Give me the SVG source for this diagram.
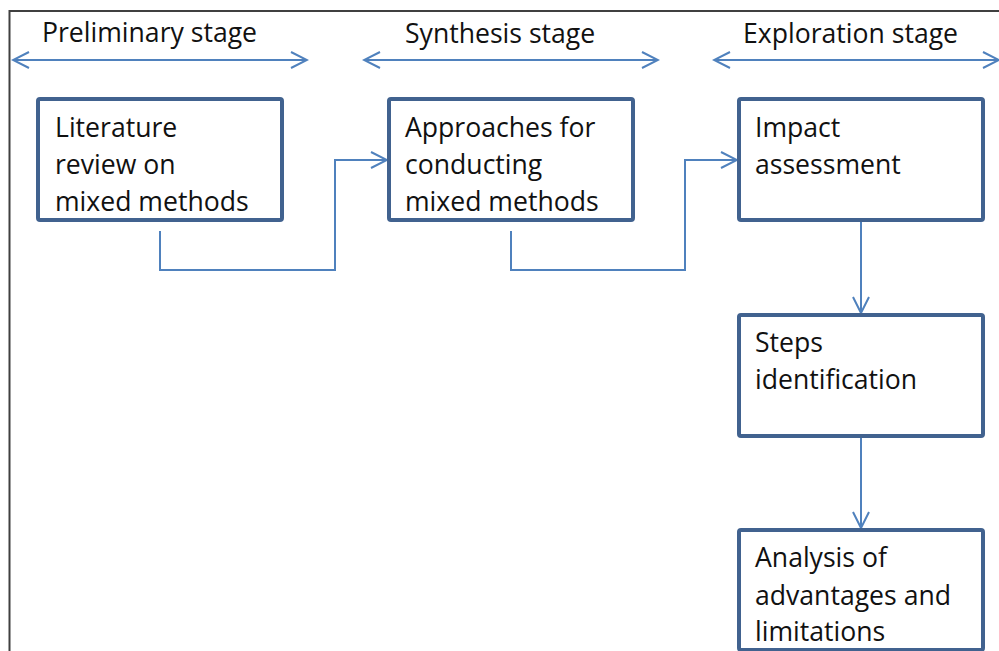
<svg xmlns="http://www.w3.org/2000/svg" width="999" height="651" viewBox="0 0 999 651">
<defs>
<style>
.t{font-family:"Open Sans","Liberation Sans",sans-serif;font-size:26.6px;fill:#111}
.box{fill:#fff;stroke:#41628f;stroke-width:4}
.c{fill:none;stroke:#4f81bd;stroke-width:2}
</style>
<marker id="ah" viewBox="0 0 20 20" refX="18" refY="10" markerWidth="20" markerHeight="20" markerUnits="userSpaceOnUse" orient="auto-start-reverse">
<path d="M2,2 L18,10 L2,18" fill="none" stroke="#4f81bd" stroke-width="2"/>
</marker>
</defs>
<rect width="999" height="651" fill="#fff"/>
<path d="M9.5,651 V11 H999" fill="none" stroke="#404040" stroke-width="2"/>
<g id="headers">
<text class="t" x="42" y="42">Preliminary stage</text>
<text class="t" x="405" y="43">Synthesis stage</text>
<text class="t" x="743" y="43">Exploration stage</text>
</g>
<g id="connectors">
<path class="c" d="M13,60 H307" marker-start="url(#ah)" marker-end="url(#ah)"/>
<path class="c" d="M364,60 H658" marker-start="url(#ah)" marker-end="url(#ah)"/>
<path class="c" d="M714,60 H999" marker-start="url(#ah)" marker-end="url(#ah)"/>
<path class="c" d="M160,231 V270 H335 V160 H387" marker-end="url(#ah)"/>
<path class="c" d="M511,231 V270 H685 V160 H737" marker-end="url(#ah)"/>
<path class="c" d="M861,221 V313" marker-end="url(#ah)"/>
<path class="c" d="M861,437 V528" marker-end="url(#ah)"/>
</g>
<g id="n1">
<rect class="box" x="38" y="99" width="244" height="121" rx="2"/>
<text class="t" x="55" y="137">Literature</text>
<text class="t" x="55" y="174">review on</text>
<text class="t" x="55" y="211">mixed methods</text>
</g>
<g id="n2">
<rect class="box" x="389" y="99" width="244" height="121" rx="2"/>
<text class="t" x="405" y="137">Approaches for</text>
<text class="t" x="405" y="174">conducting</text>
<text class="t" x="405" y="211">mixed methods</text>
</g>
<g id="n3">
<rect class="box" x="739" y="99" width="244" height="121" rx="2"/>
<text class="t" x="755" y="137">Impact</text>
<text class="t" x="755" y="174">assessment</text>
</g>
<g id="n4">
<rect class="box" x="739" y="315" width="244" height="121" rx="2"/>
<text class="t" x="755" y="352">Steps</text>
<text class="t" x="755" y="389">identification</text>
</g>
<g id="n5">
<rect class="box" x="739" y="530" width="244" height="120" rx="2"/>
<text class="t" x="755" y="567">Analysis of</text>
<text class="t" x="755" y="605">advantages and</text>
<text class="t" x="755" y="641">limitations</text>
</g>
</svg>
